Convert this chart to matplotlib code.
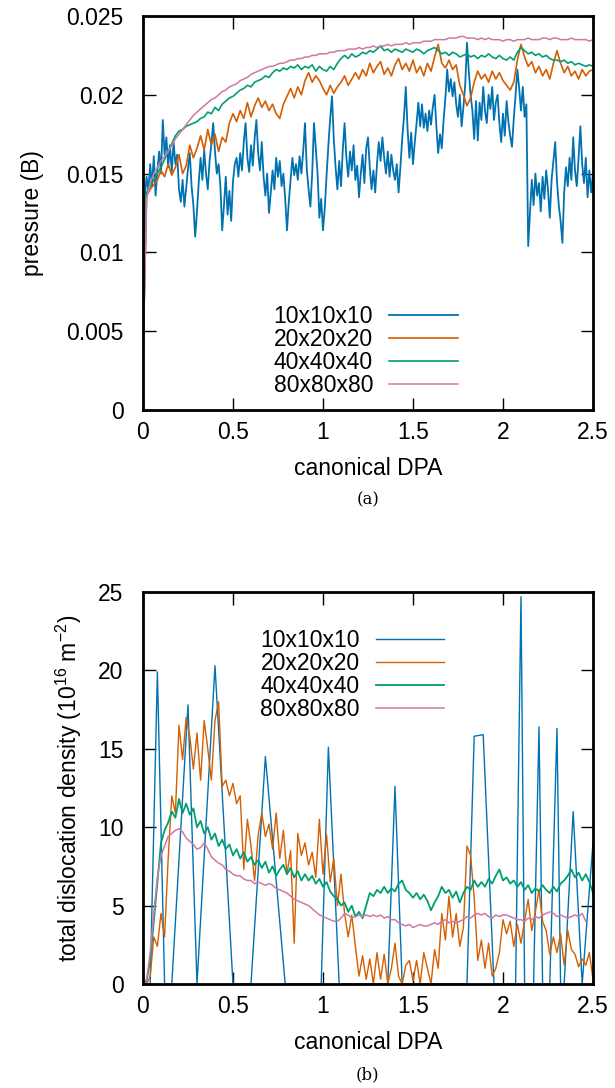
import numpy as np
import matplotlib
matplotlib.use("Agg")
import matplotlib.pyplot as plt

plt.rcParams['font.family'] = ['Liberation Sans', 'DejaVu Sans']
plt.rcParams['mathtext.default'] = 'regular'

labels = ["10x10x10", "20x20x20", "40x40x40", "80x80x80"]
colors = ["#0072b2", "#d55e00", "#009e73", "#cc79a7"]

# ---- (a) pressure, values in units of 1e-3 B ----
dpa_fine = np.arange(251) * 0.01
dpa = np.arange(126) * 0.02

p10 = [3.0, 13.5, 14.8, 13.9, 15.6, 14.2, 16.1, 13.6, 15.2, 16.4,
       15.0, 18.4, 16.2, 17.3, 15.4, 16.8, 15.1, 17.0, 15.6, 16.2,
       14.0, 13.2, 14.6, 12.9, 14.1, 15.3, 16.3, 14.2, 13.0, 11.0,
       12.6, 14.5, 16.0, 14.6, 16.5, 15.0, 14.0, 15.8, 16.9, 18.2,
       16.4, 15.0, 15.6, 14.2, 11.4, 13.0, 14.8, 12.4, 13.9, 12.0,
       14.5, 15.6, 16.0, 14.8, 16.3, 15.2, 17.0, 18.2, 16.0, 15.1,
       16.8, 15.5, 17.2, 18.4, 16.3, 15.2, 17.0, 14.8, 13.6, 15.0,
       12.5, 13.8, 15.2, 14.0, 16.0, 14.8, 15.8, 14.2, 15.0, 13.4,
       11.4, 13.2, 14.6, 16.0, 14.9, 15.6, 14.6, 16.1, 15.0, 16.4,
       18.2, 15.3, 14.0, 12.9, 15.0, 18.2, 16.6, 15.0, 12.2, 13.4,
       11.4, 12.8, 14.9, 16.8, 18.5, 19.9, 17.2, 15.4, 14.0, 15.8,
       14.2, 16.5, 18.2, 16.0, 14.8, 16.4, 15.2, 16.8, 14.6, 15.5,
       13.5, 15.0, 16.2, 14.4, 16.6, 17.3, 15.4, 14.0, 15.2, 13.8,
       15.6, 17.0, 15.8, 17.3, 16.0, 15.0, 16.4, 14.8, 16.2, 15.2,
       14.6, 15.6, 13.8, 15.4, 17.2, 18.6, 20.5, 17.8, 16.0, 17.6,
       15.6, 17.0, 18.2, 19.5, 18.0, 19.4, 17.9, 18.8, 17.7, 19.0,
       18.1, 19.2, 20.0, 18.0, 16.3, 17.5, 16.6, 18.4, 19.8, 21.6,
       20.2, 21.0, 19.9, 20.8, 19.4, 18.6, 20.0, 18.0, 19.2, 20.6,
       23.3, 21.5, 20.0, 19.0, 17.2, 19.6, 17.1, 19.5, 18.4, 20.5,
       19.0, 18.2, 20.0, 19.1, 20.5, 18.4, 19.5, 20.0, 18.2, 17.0,
       18.8, 17.4, 19.6, 18.3, 17.4, 16.7, 18.5, 20.0, 21.6, 20.4,
       19.0, 20.5, 18.6, 19.4, 10.4, 12.5, 14.6, 13.0, 15.0, 13.6,
       14.4, 12.6, 14.8, 13.4, 15.2, 14.0, 12.2, 14.6, 15.8, 17.0,
       14.5, 13.0, 12.0, 10.6, 13.8, 15.4, 14.2, 16.0, 14.6, 17.3,
       15.2, 14.2, 16.0, 18.0, 15.6, 14.4, 16.0, 13.5, 15.2, 13.8,
       15.0]

p20 = [3.5, 13.6, 14.0, 14.3, 14.6, 15.2, 14.8, 15.6, 14.9, 15.4,
       16.2, 15.0, 15.5, 16.8, 16.0, 16.6, 17.4, 16.5, 17.8, 16.8,
       17.5, 16.4, 17.3, 17.0, 18.2, 18.8, 18.3, 19.0, 18.5, 19.5,
       18.6, 19.3, 19.8, 19.2, 19.6, 19.0, 19.4, 18.8, 18.5, 19.4,
       19.9, 20.4, 19.8, 20.5, 20.0, 20.9, 21.4, 20.8, 21.2, 20.9,
       20.4, 20.0, 20.6, 20.1, 20.5, 20.8, 21.2, 20.6, 21.0, 21.4,
       21.0, 21.6, 21.2, 22.0, 21.4, 21.8, 22.1, 21.3, 21.7, 21.2,
       21.9, 22.3, 21.6, 22.0, 21.5, 22.2, 21.4, 21.8, 21.2, 22.0,
       21.5, 22.4, 23.2, 22.0, 21.7, 22.2, 21.6, 21.9, 20.6, 20.0,
       19.3, 19.8, 20.8, 21.5, 21.0, 21.3, 20.8, 21.5, 21.0, 21.4,
       20.9, 20.6, 20.3, 20.8, 22.2, 23.2, 22.4, 21.8, 22.1, 21.4,
       21.8, 21.2, 21.6, 21.0, 22.0, 22.8, 22.0, 21.4, 21.8, 21.2,
       21.5, 21.0, 21.6, 21.2, 21.5, 21.6]

p40 = [3.5, 13.8, 14.2, 14.6, 15.0, 15.4, 15.9, 16.4, 16.9, 17.4,
       17.7, 17.8, 18.0, 18.1, 18.2, 18.3, 18.5, 18.6, 18.9, 18.8,
       19.2, 19.0, 19.4, 19.6, 19.8, 19.9, 20.1, 20.3, 20.4, 20.6,
       20.5, 20.8, 20.9, 21.0, 21.2, 21.1, 21.4, 21.6, 21.5, 21.7,
       21.6, 21.8, 21.7, 21.9, 21.6, 21.8, 21.7, 21.9, 21.5, 21.8,
       21.6, 21.5, 21.8, 21.6, 22.0, 22.3, 22.5, 22.3, 22.6, 22.4,
       22.5, 22.7, 22.6, 22.8, 22.7, 22.9, 23.1, 22.8, 22.9, 22.7,
       22.9, 22.8, 22.7, 22.9, 22.8, 22.7, 22.9, 22.8, 22.6, 22.8,
       22.9, 23.0, 22.8, 22.6, 22.7, 22.5, 22.7, 22.6, 22.4, 22.5,
       22.6, 22.4, 22.5, 22.3, 22.5, 22.4, 22.6, 22.4, 22.3, 22.5,
       22.3, 22.2, 22.4, 22.2, 22.7, 23.0, 22.8, 22.6, 22.7, 22.5,
       22.6, 22.4, 22.5, 22.3, 22.2, 22.2, 22.1, 22.2, 22.0, 22.1,
       21.9, 22.0, 21.9, 21.8, 21.9, 21.8]

p80 = [3.0, 13.4, 14.4, 15.0, 15.4, 15.8, 16.1, 16.4, 16.8, 17.2,
       17.5, 17.8, 18.1, 18.4, 18.7, 18.9, 19.1, 19.3, 19.5, 19.7,
       19.8, 20.0, 20.2, 20.3, 20.5, 20.6, 20.7, 20.9, 21.0, 21.1,
       21.3, 21.4, 21.5, 21.6, 21.7, 21.8, 21.8, 21.9, 22.0, 22.0,
       22.1, 22.2, 22.2, 22.3, 22.3, 22.4, 22.4, 22.5, 22.5, 22.6,
       22.6, 22.6, 22.7, 22.7, 22.8, 22.8, 22.8, 22.9, 22.9, 22.9,
       23.0, 22.9, 23.0, 23.0, 23.1, 23.0, 23.1, 23.1, 23.2, 23.1,
       23.2, 23.2, 23.2, 23.3, 23.2, 23.3, 23.3, 23.3, 23.4, 23.4,
       23.4, 23.5, 23.5, 23.5, 23.5, 23.6, 23.6, 23.6, 23.7, 23.7,
       23.6, 23.6, 23.6, 23.5, 23.6, 23.5, 23.6, 23.5, 23.5, 23.5,
       23.4, 23.5, 23.5, 23.4, 23.5, 23.5, 23.5, 23.6, 23.5, 23.5,
       23.5, 23.6, 23.6, 23.5, 23.6, 23.6, 23.5, 23.5, 23.5, 23.6,
       23.5, 23.5, 23.5, 23.5, 23.4, 23.5]

# ---- (b) dislocation density, 1e16 m^-2 ----
d10_x = [0, 0.04, 0.08, 0.12, 0.16, 0.25, 0.30, 0.40, 0.50, 0.60, 0.68, 0.79,
         0.99, 1.03, 1.09, 1.36, 1.40, 1.44, 1.80, 1.84, 1.89, 1.95, 2.07,
         2.10, 2.12, 2.17, 2.20, 2.22, 2.26, 2.30, 2.32, 2.34, 2.39, 2.44, 2.50]
d10 = [0, 0, 19.9, 0, 0, 17.8, 0, 20.3, 0, 0, 14.5, 0,
       0, 15.1, 0, 0, 12.6, 0, 0, 15.8, 15.9, 0, 0,
       24.7, 0, 0, 16.4, 0, 0, 16.3, 0, 0, 11.0, 0, 9.0]

d20 = [0.0, 0.0, 0.5, 3.0, 2.4, 4.5, 3.0, 8.0, 12.0, 10.9,
       16.5, 14.3, 17.0, 15.8, 13.7, 16.0, 13.0, 16.8, 15.0, 13.0,
       16.8, 18.0, 12.6, 13.0, 12.0, 12.8, 11.5, 12.0, 7.3, 10.5,
       8.8, 6.6, 9.5, 10.9, 9.4, 10.2, 8.6, 10.9, 8.0, 9.8,
       7.0, 8.5, 2.6, 9.6, 8.2, 9.0, 7.6, 8.4, 6.8, 10.5,
       7.0, 9.5, 6.5, 8.0, 5.0, 7.0, 4.5, 3.0, 4.4, 2.4,
       0.5, 1.8, 0.3, 1.6, 0.0, 2.0, 0.3, 1.9, 0.0, 1.0,
       2.6, 0.5, 0.0, 1.2, 1.5, 0.2, 1.5, 0.0, 2.0, 1.0,
       0.0, 2.2, 1.0, 4.5, 2.8, 5.6, 3.0, 4.5, 2.4, 3.6,
       8.8, 8.2, 5.5, 1.5, 2.8, 1.0, 2.6, 0.5, 1.0, 2.0,
       4.1, 3.2, 4.0, 2.4, 3.8, 2.6, 4.0, 5.4, 3.4, 4.6,
       6.0, 4.0, 3.4, 1.9, 3.0, 2.0, 3.2, 1.2, 3.4, 2.2,
       1.9, 1.1, 1.6, 1.2, 2.0, 0.3]

d40 = [0.0, 0.2, 1.5, 4.0, 6.5, 9.0, 9.8, 10.3, 11.0, 10.6,
       11.8, 10.9, 11.5, 10.8, 11.2, 10.0, 10.4, 9.6, 10.0, 9.2,
       9.6, 8.8, 9.2, 8.6, 8.9, 8.2, 8.6, 8.0, 8.4, 7.8,
       8.1, 7.6, 7.9, 7.4, 7.8, 7.1, 7.5, 6.9, 7.3, 7.6,
       7.0, 7.4, 6.8, 7.2, 6.6, 7.0, 6.6, 6.9, 6.4, 6.7,
       6.2, 6.5, 5.9, 5.6, 5.4, 5.0, 5.2, 4.6, 5.0, 4.3,
       4.6, 4.2, 5.0, 5.8, 5.6, 6.0, 5.8, 6.2, 5.8, 6.1,
       5.9, 6.4, 6.6, 6.0, 5.8, 5.5, 5.8, 5.4, 5.7, 5.3,
       4.7, 5.2, 5.6, 6.2, 5.8, 6.0, 5.5, 5.9, 5.2, 5.8,
       6.2, 6.0, 6.6, 6.2, 6.5, 6.2, 6.7, 6.4, 6.9, 7.3,
       6.6, 6.8, 6.4, 6.6, 6.2, 6.5, 6.0, 6.3, 5.8, 6.1,
       5.9, 6.3, 6.0, 5.8, 6.2, 5.9, 6.4, 6.6, 6.9, 7.3,
       6.8, 7.1, 6.6, 7.0, 6.5, 5.8]

d80 = [0.0, 0.3, 2.0, 4.5, 6.8, 8.2, 8.8, 9.4, 9.6, 9.8,
       9.9, 9.7, 9.3, 9.1, 8.9, 8.6, 8.7, 9.0, 8.6, 8.1,
       7.9, 7.7, 7.6, 7.3, 7.2, 7.0, 6.9, 6.9, 6.7, 6.6,
       6.6, 6.4, 6.5, 6.4, 6.3, 6.4, 6.3, 6.1, 6.0, 5.9,
       5.8, 5.6, 5.4, 5.3, 5.2, 5.1, 5.0, 4.8, 4.6, 4.4,
       4.3, 4.2, 4.1, 4.0, 4.0, 4.2, 4.5, 4.4, 4.2, 4.3,
       4.4, 4.3, 4.4, 4.3, 4.4, 4.3, 4.4, 4.2, 4.3, 4.1,
       4.1, 3.9, 3.8, 3.7, 3.8, 3.6, 3.7, 3.8, 3.7, 3.7,
       3.8, 3.9, 3.8, 4.0, 4.1, 3.9, 4.0, 3.9, 4.0, 4.1,
       4.3, 4.2, 4.4, 4.5, 4.4, 4.5, 4.3, 4.2, 4.4, 4.3,
       4.4, 4.4, 4.3, 4.2, 4.1, 4.1, 4.0, 4.2, 4.1, 4.3,
       4.2, 4.4, 4.5, 4.6, 4.5, 4.3, 4.4, 4.3, 4.2, 4.3,
       4.4, 4.3, 4.5, 4.0]

fs = 16.5
fig = plt.figure(figsize=(6.15, 10.88), dpi=100)
ax1 = fig.add_axes([0.2325, 0.6232, 0.7317, 0.3621])
ax2 = fig.add_axes([0.2325, 0.0956, 0.7317, 0.3603])

pres = [(dpa_fine, p10), (dpa, p20), (dpa, p40), (dpa, p80)]
for (x, y), lab, c, w in zip(pres, labels, colors, [1.3, 1.2, 1.2, 1.1]):
    ax1.plot(x, np.array(y) * 1e-3, color=c, lw=w, label=lab)

dens = [(d10_x, d10), (dpa, d20), (dpa, d40), (dpa[:len(d80)], d80)]
for (x, y), lab, c, w in zip(dens, labels, colors, [1.0, 1.0, 1.3, 1.1]):
    ax2.plot(x, y, color=c, lw=w, label=lab)

ax1.set_ylim(0, 0.025)
ax1.set_yticks([0, 0.005, 0.01, 0.015, 0.02, 0.025])
ax1.set_yticklabels(["0", "0.005", "0.01", "0.015", "0.02", "0.025"])
ax1.set_ylabel("pressure (B)", fontsize=fs, labelpad=16)
ax2.set_ylim(0, 25)
ax2.set_yticks([0, 5, 10, 15, 20, 25])
ax2.set_ylabel("total dislocation density (10$^{16}$ m$^{-2}$)", fontsize=fs, labelpad=10)

for ax in (ax1, ax2):
    ax.set_xlim(0, 2.5)
    ax.set_xticks([0, 0.5, 1, 1.5, 2, 2.5])
    ax.set_xticklabels(["0", "0.5", "1", "1.5", "2", "2.5"])
    ax.set_xlabel("canonical DPA", fontsize=fs, labelpad=9)
    ax.tick_params(direction="in", length=9, width=1, top=True, right=True,
                   labelsize=fs)
    ax.tick_params(axis="x", pad=8)
    ax.tick_params(axis="y", pad=14)
    for s in ax.spines.values():
        s.set_linewidth(2)

ax1.legend(loc="lower right", bbox_to_anchor=(0.72, 0.01), frameon=False,
           markerfirst=False, fontsize=fs, handlelength=3.0, labelspacing=0.0,
           handletextpad=0.7, borderaxespad=0)
ax2.legend(loc="upper right", bbox_to_anchor=(0.69, 0.93), frameon=False,
           markerfirst=False, fontsize=fs, handlelength=3.0, labelspacing=0.0,
           handletextpad=0.7, borderaxespad=0)

fig.text(0.598, 1 - 500 / 1088, "(a)", family="DejaVu Serif", fontsize=12,
         ha="center", va="center")
fig.text(0.598, 1 - 1075 / 1088, "(b)", family="DejaVu Serif", fontsize=12,
         ha="center", va="center")

fig.savefig("out.png", dpi=100)
